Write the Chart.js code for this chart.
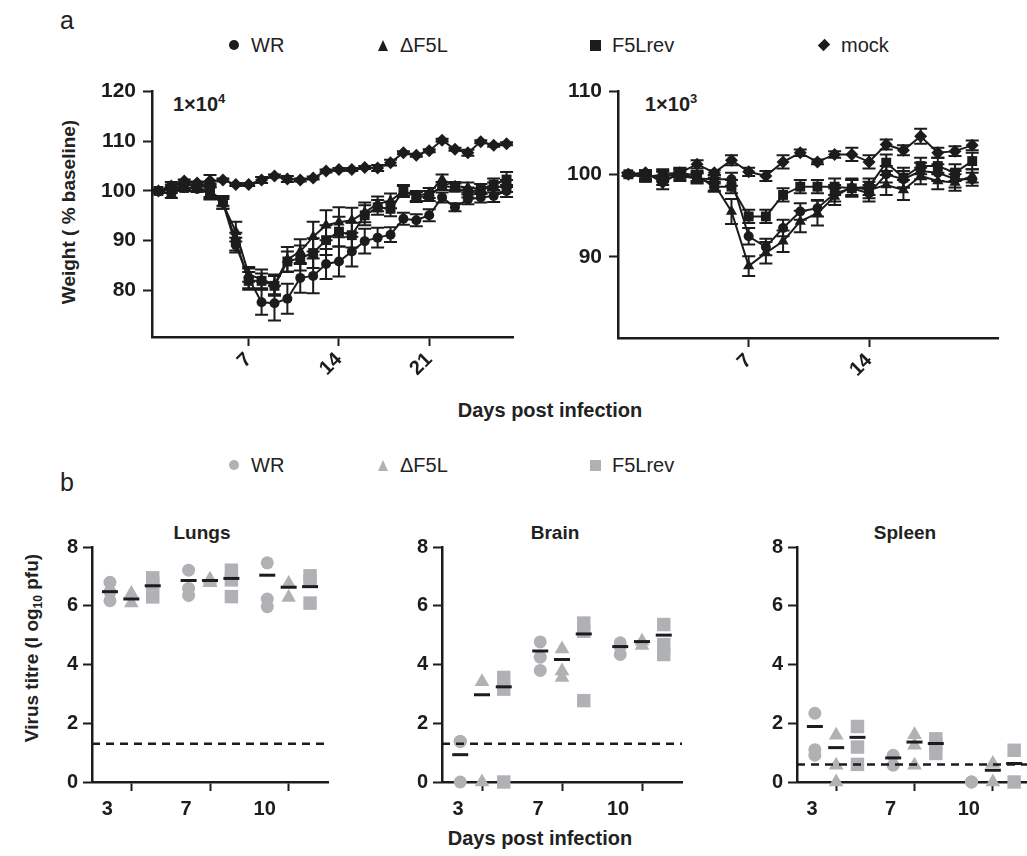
<!DOCTYPE html>
<html>
<head>
<meta charset="utf-8">
<script src="https://cdn.jsdelivr.net/npm/chart.js@4.4.1/dist/chart.umd.min.js"></script>
<style>
body{margin:0;width:1027px;height:856px;overflow:hidden;background:#fff;font-family:"Liberation Sans",Arial,sans-serif;color:#222;position:relative}
canvas{position:absolute}
.t{position:absolute;white-space:nowrap;line-height:1}
.b{font-weight:bold}
.c{transform:translate(-50%,-50%)}
.v{transform:translate(-50%,-50%) rotate(-90deg)}
.mk{position:absolute}
</style>
</head>
<body>

<div class="t" style="left:60px;top:8px;font-size:25px">a</div>
<div class="t" style="left:60px;top:470px;font-size:25px">b</div>

<div id="legA"></div>
<div id="legB"></div>

<div class="t b" style="left:173px;top:92px;font-size:20px">1×10<sup style="font-size:13px">4</sup></div>
<div class="t b" style="left:645px;top:92px;font-size:20px">1×10<sup style="font-size:13px">3</sup></div>

<div class="t b v" style="left:68px;top:212px;font-size:19px">Weight ( % baseline)</div>
<div class="t b c" style="left:550px;top:410px;font-size:20px">Days post infection</div>

<div class="t b c" style="left:202px;top:532px;font-size:19px">Lungs</div>
<div class="t b c" style="left:555px;top:532px;font-size:19px">Brain</div>
<div class="t b c" style="left:905px;top:532px;font-size:19px">Spleen</div>
<div class="t b v" style="left:33px;top:648px;font-size:19px">Virus titre (l og<sub style="font-size:12px">10</sub> pfu)</div>
<div class="t b c" style="left:540px;top:838px;font-size:20px">Days post infection</div>

<canvas id="chartA"></canvas>
<canvas id="chartB"></canvas>
<canvas id="chartLungs"></canvas>
<canvas id="chartBrain"></canvas>
<canvas id="chartSpleen"></canvas>

<script>
// ---- panel a : weight, 1x10^4 ----
const daysA = [0,1,2,3,4,5,6,7,8,9,10,11,12,13,14,15,16,17,18,19,20,21,22,23,24,25,26,27];
const wrA = [100,101,100.6,100.4,100,97.6,89.1,82.4,77.6,77.4,78.3,82.5,82.9,85.3,85.8,87.8,89.9,90.6,91.2,94.4,94.1,95.1,98.7,96.7,98.3,98.7,99.0,100.0];
const dF5LA = [100,99.4,100.8,100.4,99.5,97.4,91.8,83.2,82.2,81.2,86.2,87.8,90.8,93.1,93.7,94.1,95.7,97.4,98,100,99,99.6,102.3,101,100.7,100.4,100.7,101];
const revA = [100,100.2,100.6,100.6,100,98,89.8,81.9,81.9,80.9,85.8,86.5,87.5,90.1,91.8,91.1,95.1,96.7,96.4,100,98.8,99,101,100.7,99.7,100.4,101.3,102.3];
const mockA = [100,101,102,101.6,102,102.2,101.3,101.3,102.2,103,102.4,102.2,102.6,104,104.3,104.3,104.7,104.6,105.7,107.7,107.2,108.1,110.2,108.4,107.7,109.9,109.2,109.5];
const wrErrA = [0.3,0.8,0.6,0.5,1.5,1.2,1.5,2,2.5,3.5,3,3,3.5,3,3,3,2.5,2,1.5,1.2,1.2,1.2,1,0.8,1,1,1.2,1.2];
const dF5LErrA = [0.3,0.8,0.6,0.6,1.2,1,2,1.5,2,2,2.5,2.5,3,3,3,2.5,2,1.5,1.5,1.2,1,1,1,0.8,1,1,1,1.2];
const revErrA = [0.3,0.6,0.6,0.6,1.2,1,1.8,1.8,1.5,2,2,2.5,3,3,3,2.5,2,1.5,1.5,1,1,1,0.8,0.8,1,1,1.2,1.5];
const mockErrA = [0.2,0.3,0.3,0.3,1.2,0.3,0.3,0.3,0.6,0.3,0.6,0.3,0.3,0.3,0.3,0.3,0.3,0.6,0.6,0.3,0.3,0.3,0.3,0.3,0.6,0.3,0.3,0.3];

// ---- panel a : weight, 1x10^3 ----
const daysB = [0,1,2,3,4,5,6,7,8,9,10,11,12,13,14,15,16,17,18,19,20];
const wrB = [100,100,99.5,99.8,99.5,99.4,99.4,92.5,91.2,93.5,95.5,95.9,97.7,98.3,97.7,100,99.4,100.4,100.2,99.4,99.4];
const dF5LB = [100,99.8,99.8,100,99.6,98.8,95.5,88.9,90.5,91.9,94.3,95.3,97.3,98.5,98.1,98.7,98.1,99.8,99.2,99,99.8];
const revB = [100,99.6,100,100.2,99.8,98.5,98.5,94.9,94.9,97.5,98.5,98.5,98.5,98.3,98.5,101.4,99.6,101,101,100.2,101.6];
const mockB = [100,100.2,99,100.2,101.2,100.2,101.7,100.3,99.8,101.5,102.6,101.5,102.4,102.4,101.5,103.6,102.9,104.6,102.6,102.8,103.5];
const wrErrB = [0.2,0.5,0.8,0.6,0.6,0.5,0.8,1,1,1,1,1,1,1,1,1,1,1,1,1,0.8];
const dF5LErrB = [0.2,0.5,0.6,0.6,0.6,0.8,1.5,1.2,1.3,1.3,1.3,1.5,1,1,1,1.2,1.2,1,1,1,0.8];
const revErrB = [0.2,0.5,0.6,0.6,0.6,0.6,0.8,0.8,0.8,0.8,0.8,0.8,1,1,1,1,1.2,1,1,1,1];
const mockErrB = [0.2,0.3,0.8,0.5,0.5,0.3,0.6,0.5,0.6,0.8,0.4,0.3,0.4,0.8,0.8,0.6,0.6,0.9,0.6,0.6,0.6];

// ---- panel b : virus titres (one inner array per day: 3, 7, 10) ----
const organDays = ['3','7','10'];
const lungsWR = [[6.8,6.47,6.17],[7.21,6.59,6.35],[7.46,6.23,5.97]];
const lungsDF5L = [[6.42,6.09],[6.9,6.82,6.78],[6.76,6.28]];
const lungsRev = [[6.95,6.75,6.3],[7.21,6.88,6.31],[7.02,6.84,6.09]];
const lungsMeans = [[6.48,6.86,7.04],[6.23,6.86,6.63],[6.68,6.93,6.65]];
const brainWR = [[1.38,1.38,0],[4.77,4.25,3.8],[4.74,4.6,4.34]];
const brainDF5L = [[3.41,0],[4.53,3.78,3.56],[4.79,4.65]];
const brainRev = [[3.56,3.16,0],[5.41,5.13,2.77],[5.36,4.68,4.34]];
const brainMeans = [[0.93,4.46,4.61],[2.97,4.17,4.78],[3.24,5.04,5.0]];
const spleenWR = [[2.34,1.1,0.91],[0.91,0.57],[0,0,0]];
const spleenDF5L = [[1.59,0.57,0],[1.61,1.25,0.57],[0.63,0]];
const spleenRev = [[1.89,1.19,0.6],[1.47,1.3,0.97],[1.08,0]];
const spleenMeans = [[1.89,0.82,null],[1.17,1.36,0.4],[1.52,1.31,0.63]];
const detectLimit = [1.3,1.3,0.6];

const strains = ['WR','\u0394F5L','F5Lrev','mock'];
const styles = ['circle','triangle','rect','rectRot'];
const black = '#1c1c1c';
const grey = '#b0b1b4';

// legends (html)
function legend(id, y, color, n) {
  const xs = [234, 383, 595, 824];
  let html = '';
  for (let i = 0; i < n; i++) {
    const x = xs[i];
    let shape;
    if (i === 0) shape = `<div class="mk" style="left:${x-5}px;top:${y-5}px;width:10px;height:10px;border-radius:50%;background:${color}"></div>`;
    if (i === 1) shape = `<div class="mk" style="left:${x-5}px;top:${y-5}px;width:0;height:0;border-left:5px solid transparent;border-right:5px solid transparent;border-bottom:11px solid ${color}"></div>`;
    if (i === 2) shape = `<div class="mk" style="left:${x-5}px;top:${y-5}px;width:11px;height:11px;background:${color}"></div>`;
    if (i === 3) shape = `<div class="mk" style="left:${x-4}px;top:${y-4}px;width:8px;height:8px;background:${color};transform:rotate(45deg) scale(1,1.2)"></div>`;
    html += shape + `<div class="t" style="left:${x+17}px;top:${y-10}px;font-size:20px">${strains[i]}</div>`;
  }
  document.getElementById(id).innerHTML = html;
}
legend('legA', 45, black, 4);
legend('legB', 465, grey, 3);

const errorBars = {
  id: 'errorBars',
  beforeDatasetsDraw(chart) {
    const ctx = chart.ctx, xs = chart.scales.x, ys = chart.scales.y;
    chart.data.datasets.forEach(ds => {
      if (!ds.err) return;
      ctx.save();
      ctx.strokeStyle = black;
      ctx.lineWidth = 2;
      ds.data.forEach((p, i) => {
        const e = ds.err[i];
        if (!e) return;
        const x = xs.getPixelForValue(p.x);
        const y1 = ys.getPixelForValue(p.y + e), y2 = ys.getPixelForValue(p.y - e);
        ctx.beginPath();
        ctx.moveTo(x, y1); ctx.lineTo(x, y2);
        ctx.moveTo(x - 6.5, y1); ctx.lineTo(x + 6.5, y1);
        ctx.moveTo(x - 6.5, y2); ctx.lineTo(x + 6.5, y2);
        ctx.stroke();
      });
      ctx.restore();
    });
  }
};

function setCanvas(id, left, top, w, h) {
  const c = document.getElementById(id);
  c.width = w; c.height = h;
  c.style.left = left + 'px'; c.style.top = top + 'px';
  return c;
}

function axisStyle(fontSize) {
  return {
    grid: {display: true, drawOnChartArea: false, drawTicks: true, tickLength: 9, tickWidth: 2, tickColor: black},
    border: {display: true, color: black, width: 2.5},
    ticks: {color: black, font: {family: 'Liberation Sans', size: fontSize, weight: 'bold'}}
  };
}

const weightRadius = [5, 6.5, 7, 6.5];

function weightDataset(days, values, errs, i) {
  return {
    data: days.map((d, k) => ({x: d, y: values[k]})),
    err: errs,
    borderColor: black, borderWidth: 2,
    pointStyle: styles[i], pointRadius: weightRadius[i],
    pointBackgroundColor: black, pointBorderColor: black, pointBorderWidth: 0,
    tension: 0, clip: false
  };
}

function weightChart(id, box, days, series, errs, xr, xt, yr, yt) {
  const yW = 80, padT = 15, padR = 20, xH = 70;
  const c = setCanvas(id, box[0] - yW, box[1] - padT, (box[2] - box[0]) + yW + padR, (box[3] - box[1]) + padT + xH);
  const xa = axisStyle(20), ya = axisStyle(21);
  Object.assign(xa, {type: 'linear', min: xr[0], max: xr[1],
    afterBuildTicks: s => { s.ticks = xt.map(v => ({value: v})); },
    afterFit: s => { s.height = xH; }});
  xa.ticks = Object.assign(xa.ticks, {minRotation: 45, maxRotation: 45, padding: 2});
  Object.assign(ya, {type: 'linear', min: yr[0], max: yr[1],
    afterBuildTicks: s => { s.ticks = yt.map(v => ({value: v})); },
    afterFit: s => { s.width = yW; }});
  ya.ticks.padding = 7;
  return new Chart(c, {
    type: 'line',
    data: {datasets: series.map((v, i) => weightDataset(days, v, errs[i], i))},
    options: {
      responsive: false, animation: false,
      layout: {padding: {top: padT, right: padR, left: 0, bottom: 0}},
      plugins: {legend: {display: false}, tooltip: {enabled: false}},
      scales: {x: xa, y: ya}
    },
    plugins: [errorBars]
  });
}

weightChart('chartA', [152, 87, 513, 337], daysA,
  [wrA, dF5LA, revA, mockA], [wrErrA, dF5LErrA, revErrA, mockErrA],
  [-0.5, 27.5], [7, 14, 21], [70.6, 120], [80, 90, 100, 110, 120]);
weightChart('chartB', [618, 87, 998, 338], daysB,
  [wrB, dF5LB, revB, mockB], [wrErrB, dF5LErrB, revErrB, mockErrB],
  [-0.6, 21.5], [7, 14], [80.2, 110], [90, 100, 110]);

// organ charts
const offsets = [-0.272, 0, 0.272];
const organRadius = [6.5, 8.5, 9.5];

function organChart(id, box, groups, means, limit) {
  const yW = 40, padT = 15, padR = 20, xH = 50;
  const c = setCanvas(id, box[0] - yW, box[1] - padT, (box[2] - box[0]) + yW + padR, (box[3] - box[1]) + padT + xH);
  const datasets = [];
  // mean bars
  const meanPts = [];
  means.forEach((m, s) => m.forEach((v, g) => { if (v !== null) meanPts.push({x: g + 1 + offsets[s], y: v}); }));
  datasets.push({type: 'scatter', data: meanPts, pointStyle: 'line', pointRadius: 8,
    borderColor: black, pointBorderWidth: 3, clip: false});
  // detection limit
  datasets.push({type: 'line', data: [{x: 0.5, y: limit}, {x: 3.5, y: limit}],
    borderColor: black, borderWidth: 2.5, borderDash: [8, 6], pointRadius: 0, clip: false});
  groups.forEach((arr, s) => {
    const pts = [];
    arr.forEach((vals, g) => vals.forEach(v => pts.push({x: g + 1 + offsets[s], y: v})));
    datasets.push({type: 'scatter', data: pts, pointStyle: styles[s], pointRadius: organRadius[s],
      backgroundColor: grey, borderColor: grey, pointBorderWidth: 0, clip: false});
  });
  const xa = axisStyle(20), ya = axisStyle(20);
  Object.assign(xa, {type: 'linear', min: 0.5, max: 3.5,
    afterBuildTicks: s => { s.ticks = [1, 2, 3].map(v => ({value: v})); },
    afterFit: s => { s.height = xH; }});
  xa.ticks = Object.assign(xa.ticks, {maxRotation: 0, minRotation: 0, labelOffset: -24, padding: 6,
    callback: (v) => organDays[v - 1]});
  Object.assign(ya, {type: 'linear', min: 0, max: 8,
    afterBuildTicks: s => { s.ticks = [0, 2, 4, 6, 8].map(v => ({value: v})); },
    afterFit: s => { s.width = yW; }});
  ya.ticks.padding = 5;
  return new Chart(c, {
    type: 'scatter',
    data: {datasets: datasets},
    options: {
      responsive: false, animation: false,
      layout: {padding: {top: padT, right: padR, left: 0, bottom: 0}},
      plugins: {legend: {display: false}, tooltip: {enabled: false}},
      scales: {x: xa, y: ya}
    }
  });
}

organChart('chartLungs', [92, 545, 328, 782], [lungsWR, lungsDF5L, lungsRev], lungsMeans, detectLimit[0]);
organChart('chartBrain', [442, 545, 682, 782], [brainWR, brainDF5L, brainRev], brainMeans, detectLimit[1]);
organChart('chartSpleen', [797, 545, 1032, 782], [spleenWR, spleenDF5L, spleenRev], spleenMeans, detectLimit[2]);
</script>
</body>
</html>
